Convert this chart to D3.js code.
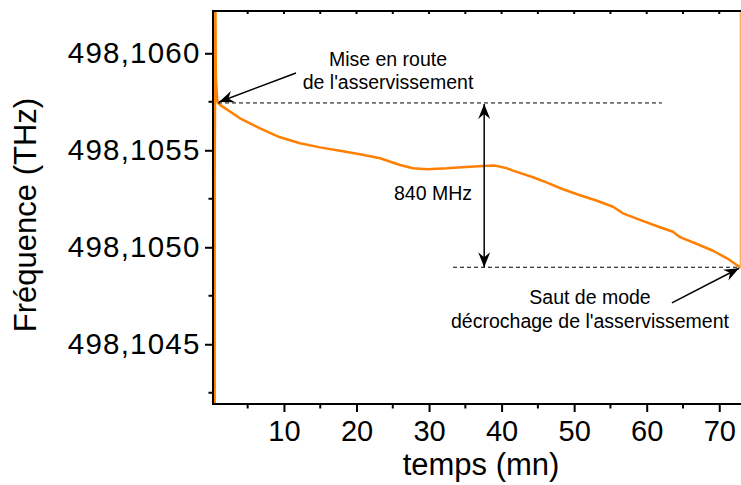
<!DOCTYPE html>
<html>
<head>
<meta charset="utf-8">
<script src="https://cdn.jsdelivr.net/npm/d3@7"></script>
<style>
  body { margin: 0; background: #fff; }
  svg { display: block; font-family: "Liberation Sans", Arial, sans-serif; }
</style>
</head>
<body>
<svg width="741" height="485"></svg>
<script>
var svg = d3.select('svg');

// temps (mn) et fréquence (THz)
var temps = [0.45, 0.45, 0.55, 0.6, 0.65, 0.8, 0.91, 1.19, 3.94, 6.70, 9.46, 12.21, 14.97, 17.73,
    20.48, 23.24, 26.00, 27.79, 29.72, 32.47, 35.09, 37.43, 39.09, 40.74, 41.57, 44.33,
    46.26, 48.46, 50.81, 53.15, 55.35, 56.73, 59.07, 61.83, 63.62, 64.59, 66.93, 69.14,
    71.07, 72.86, 73.0, 73.0];
var frequence = [498.1041, 498.10535, 498.10625, 498.10590, 498.10585, 498.10576, 498.105744,
    498.105734, 498.105665, 498.105613, 498.105567, 498.105536, 498.105515, 498.105498,
    498.105479, 498.105459, 498.105424, 498.105407, 498.105402, 498.105407, 498.105414,
    498.105419, 498.105421, 498.105407, 498.105395, 498.105361, 498.105333, 498.105299,
    498.105268, 498.105240, 498.105209, 498.105175, 498.105141, 498.105103, 498.105080,
    498.105052, 498.105017, 498.104982, 498.104943, 498.104897, 498.104897, 498.10630];

var xTicks = [10, 20, 30, 40, 50, 60, 70];
var xMinor = [5, 15, 25, 35, 45, 55, 65];
var yTicks = [498.1045, 498.1050, 498.1055, 498.1060];
var yMinor = [498.10425, 498.10475, 498.10525, 498.10575];

// annotations
var fDebut = 498.105744, tDebut = 0.91;
var fFin = 498.104897, tFin = 72.86;
var tFleche = 37.6;

var gauche = 213, droite = 740, haut = 11, bas = 404;

var x = d3.scaleLinear().domain([0.22, 72.86]).range([gauche, droite]);
var y = d3.scaleLinear().domain([498.104192, 498.106218]).range([bas, haut]);

var fmt = function(d){ return d3.format('.4f')(d).replace('.', ','); };

svg.append('rect').attr('width', 741).attr('height', 485).attr('fill', 'white');

var defs = svg.append('defs');
defs.append('clipPath').attr('id', 'clip')
    .append('rect').attr('x', gauche).attr('y', haut).attr('width', droite - gauche + 0.6).attr('height', bas - haut);
defs.append('marker')
    .attr('id', 'fleche')
    .attr('markerUnits', 'userSpaceOnUse')
    .attr('viewBox', '-16 -7 17 14')
    .attr('refX', 0).attr('refY', 0)
    .attr('markerWidth', 17).attr('markerHeight', 14)
    .attr('orient', 'auto-start-reverse')
    .append('path')
    .attr('d', 'M0,0 L-15,-6 L-10,0 L-15,6 Z')
    .attr('fill', 'black');

// courbe
var line = d3.line()
    .x(function(d, i){ return x(temps[i]); })
    .y(function(d){ return y(d); });

svg.append('path')
    .datum(frequence)
    .attr('clip-path', 'url(#clip)')
    .attr('d', line)
    .attr('fill', 'none')
    .attr('stroke', '#ff8000')
    .attr('stroke-width', 2.5)
    .attr('stroke-linejoin', 'round');

// axes
var xAxis = svg.append('g').attr('transform', 'translate(0,' + bas + ')');
xAxis.call(d3.axisBottom(x).tickValues(xTicks).tickSize(8).tickPadding(8).tickSizeOuter(0));
xAxis.selectAll('.minor').data(xMinor).enter().append('line')
    .attr('class', 'minor')
    .attr('x1', function(d){ return x(d); }).attr('x2', function(d){ return x(d); })
    .attr('y1', 0).attr('y2', 4.5).attr('stroke', 'black').attr('stroke-width', 2);

var yAxis = svg.append('g').attr('transform', 'translate(' + gauche + ',0)');
yAxis.call(d3.axisLeft(y).tickValues(yTicks).tickFormat(fmt).tickSize(8).tickPadding(4.5).tickSizeOuter(0));
yAxis.selectAll('.minor').data(yMinor).enter().append('line')
    .attr('class', 'minor')
    .attr('y1', function(d){ return y(d); }).attr('y2', function(d){ return y(d); })
    .attr('x1', 0).attr('x2', -4.5).attr('stroke', 'black').attr('stroke-width', 2);

[xAxis, yAxis].forEach(function(g){
    g.select('.domain').attr('stroke-width', 2);
    g.selectAll('.tick line').attr('stroke-width', 2);
    g.selectAll('.tick text').attr('font-size', 29).attr('fill', 'black')
        .attr('font-family', '"Liberation Sans", Arial, sans-serif');
});
yAxis.selectAll('.tick text').attr('font-size', 29.5).attr('letter-spacing', 1.2);
xAxis.select('.domain').attr('d', 'M' + (gauche - 1) + ',0H741');
yAxis.select('.domain').attr('d', 'M0,' + (bas + 1) + 'V' + (haut - 1));

// cadre du haut avec petites graduations
svg.append('line').attr('x1', gauche - 1).attr('x2', 741).attr('y1', haut).attr('y2', haut)
    .attr('stroke', 'black').attr('stroke-width', 2);
svg.selectAll('.topTick').data(xTicks.concat(xMinor)).enter().append('line')
    .attr('x1', function(d){ return x(d); }).attr('x2', function(d){ return x(d); })
    .attr('y1', haut).attr('y2', haut + 3).attr('stroke', 'black').attr('stroke-width', 2);

// titres
svg.append('text')
    .attr('x', 481).attr('y', 475)
    .attr('text-anchor', 'middle').attr('font-size', 31)
    .text('temps (mn)');
svg.append('text')
    .attr('transform', 'translate(36,215) rotate(-90)')
    .attr('text-anchor', 'middle').attr('font-size', 31)
    .text('Fréquence (THz)');

// lignes pointillées
svg.append('line')
    .attr('x1', x(tDebut)).attr('x2', x(62.1))
    .attr('y1', y(fDebut)).attr('y2', y(fDebut))
    .attr('stroke', 'black').attr('stroke-width', 1).attr('stroke-dasharray', '4,3');
svg.append('line')
    .attr('x1', x(33.3)).attr('x2', x(tFin))
    .attr('y1', y(fFin)).attr('y2', y(fFin))
    .attr('stroke', 'black').attr('stroke-width', 1).attr('stroke-dasharray', '4,3');

// flèches
svg.append('line')
    .attr('x1', x(tFleche)).attr('x2', x(tFleche))
    .attr('y1', y(fDebut) + 1).attr('y2', y(fFin))
    .attr('stroke', 'black').attr('stroke-width', 1.5)
    .attr('marker-start', 'url(#fleche)').attr('marker-end', 'url(#fleche)');
svg.append('line')
    .attr('x1', x(11.66)).attr('y1', y(498.105898))
    .attr('x2', x(tDebut) + 1).attr('y2', y(fDebut) - 1)
    .attr('stroke', 'black').attr('stroke-width', 1.5)
    .attr('marker-end', 'url(#fleche)');
svg.append('line')
    .attr('x1', x(63.47)).attr('y1', y(498.104713))
    .attr('x2', x(tFin) - 1).attr('y2', y(fFin) + 1)
    .attr('stroke', 'black').attr('stroke-width', 1.5)
    .attr('marker-end', 'url(#fleche)');

// textes
var notes = svg.append('g').attr('font-size', 19.5).attr('text-anchor', 'middle');
notes.append('text').attr('x', 388).attr('y', 66).text('Mise en route');
notes.append('text').attr('x', 388).attr('y', 89).text("de l'asservissement");
notes.append('text').attr('x', 433).attr('y', 200).text('840 MHz');
notes.append('text').attr('x', 590).attr('y', 304).text('Saut de mode');
notes.append('text').attr('x', 590).attr('y', 328).text("décrochage de l'asservissement");
</script>
</body>
</html>
